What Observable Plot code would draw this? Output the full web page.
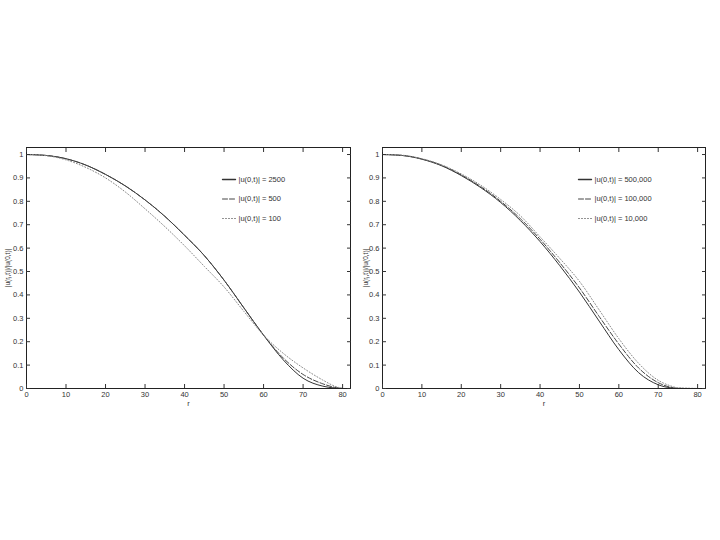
<!DOCTYPE html>
<html><head><meta charset="utf-8">
<script src="https://cdn.jsdelivr.net/npm/d3@7"></script>
<script src="https://cdn.jsdelivr.net/npm/@observablehq/plot@0.6"></script>
<style>
body{margin:0;background:#fff;width:720px;height:540px;position:relative;overflow:hidden;font-family:"Liberation Sans",Arial,sans-serif;}
#left{position:absolute;left:0;top:140px;}
#right{position:absolute;left:360px;top:140px;}
</style></head>
<body>
<div id="left"></div><div id="right"></div>
<script>
// Left panel
const xLeft = [0,5,10,15,20,25,30,35,40,45,50,55,60,65,70,75,78,80];
const u2500 = [1,0.996,0.982,0.955,0.915,0.866,0.806,0.736,0.655,0.568,0.463,0.345,0.228,0.122,0.044,0.010,0.002,0];
const u500  = [1,0.996,0.982,0.955,0.915,0.866,0.806,0.736,0.655,0.568,0.463,0.345,0.228,0.130,0.060,0.020,0.005,0];
const u100  = [1,0.995,0.977,0.945,0.900,0.840,0.768,0.692,0.610,0.522,0.434,0.330,0.228,0.150,0.088,0.036,0.010,0];
const legendLeft = ["|u(0,t)| = 2500","|u(0,t)| = 500","|u(0,t)| = 100"];
// Right panel
const xRight = [0,5,10,15,20,25,30,35,40,45,50,55,60,65,70,73,75,80];
const u500k = [1,0.996,0.980,0.952,0.910,0.858,0.795,0.718,0.628,0.525,0.412,0.288,0.166,0.068,0.016,0.003,0,0];
const u100k = [1,0.996,0.981,0.954,0.913,0.862,0.800,0.726,0.638,0.538,0.430,0.308,0.190,0.088,0.025,0.006,0.001,0];
const u10k  = [1,0.997,0.982,0.956,0.917,0.868,0.808,0.738,0.648,0.556,0.458,0.336,0.213,0.108,0.035,0.012,0.003,0];
const legendRight = ["|u(0,t)| = 500,000","|u(0,t)| = 100,000","|u(0,t)| = 10,000"];

const xTicks = [0,10,20,30,40,50,60,70,80];
const yTicks = [0,0.1,0.2,0.3,0.4,0.5,0.6,0.7,0.8,0.9,1];
const yLabel = "|u(rⱼ,t)|/|u(0,t)|";
const styles = [
  {stroke:"#333", dash:null},
  {stroke:"#444", dash:"5,2"},
  {stroke:"#888", dash:"1,2"}
];
const seg = {draw(ctx, l){ctx.moveTo(0,0); ctx.lineTo(0,-l);}};

function panel(xs, series, labels, opts){
  const marks = [];
  series.forEach((ys, i) => {
    const data = xs.map((x, j) => ({x, y: ys[j]}));
    marks.push(Plot.line(data, {x:"x", y:"y", curve:"monotone-x", stroke:styles[i].stroke, strokeWidth:1, strokeDasharray:styles[i].dash}));
  });
  labels.forEach((lab, i) => {
    marks.push(Plot.vector([lab], {frameAnchor:"top-left", dx:opts.legX, dy:32 + i*19.5, length:13, rotate:90, shape:seg, anchor:"start", stroke:styles[i].stroke, strokeWidth: i===0?1.4:1, strokeDasharray:styles[i].dash}));
    marks.push(Plot.text([lab], {frameAnchor:"top-left", dx:opts.legX + 16, dy:32 + i*19.5, text:d=>d, textAnchor:"start", lineAnchor:"middle", fontSize:7.5, fill:"#333"}));
  });
  marks.push(Plot.frame({stroke:"#222", strokeWidth:1}));
  marks.push(Plot.axisX({ticks:xTicks, tickSize:-4, tickPadding:7, fontSize:7.5, label:"r", labelAnchor:"center", labelArrow:"none", labelOffset:17}));
  marks.push(Plot.axisX({anchor:"top", ticks:xTicks, tickSize:-4, tickFormat:()=>"", label:null}));
  marks.push(Plot.axisY({ticks:yTicks, tickSize:-4, tickPadding:7, fontSize:7.5, tickFormat:d=>String(+d.toFixed(1)), label:null}));
  marks.push(Plot.axisY({ticks:[], tickSize:0, fontSize:6.5, label:yLabel, labelAnchor:"center", labelArrow:"none", labelOffset:opts.labOff}));
  marks.push(Plot.axisY({anchor:"right", ticks:yTicks, tickSize:-4, tickFormat:()=>"", label:null}));
  return Plot.plot({
    width:360, height:270,
    marginLeft:opts.ml, marginRight:opts.mr, marginTop:7, marginBottom:22,
    x:{domain:[0,82]},
    y:{domain:[0,1.03]},
    style:{fontFamily:"Liberation Sans, Arial, sans-serif", color:"#333", background:"#fff", fontSize:"7.5px"},
    marks
  });
}

document.getElementById("left").append(panel(xLeft, [u2500,u500,u100], legendLeft, {ml:26, mr:10, legX:196, labOff:21}));
document.getElementById("right").append(panel(xRight, [u500k,u100k,u10k], legendRight, {ml:22, mr:15, legX:196, labOff:19}));
</script>
</body></html>
